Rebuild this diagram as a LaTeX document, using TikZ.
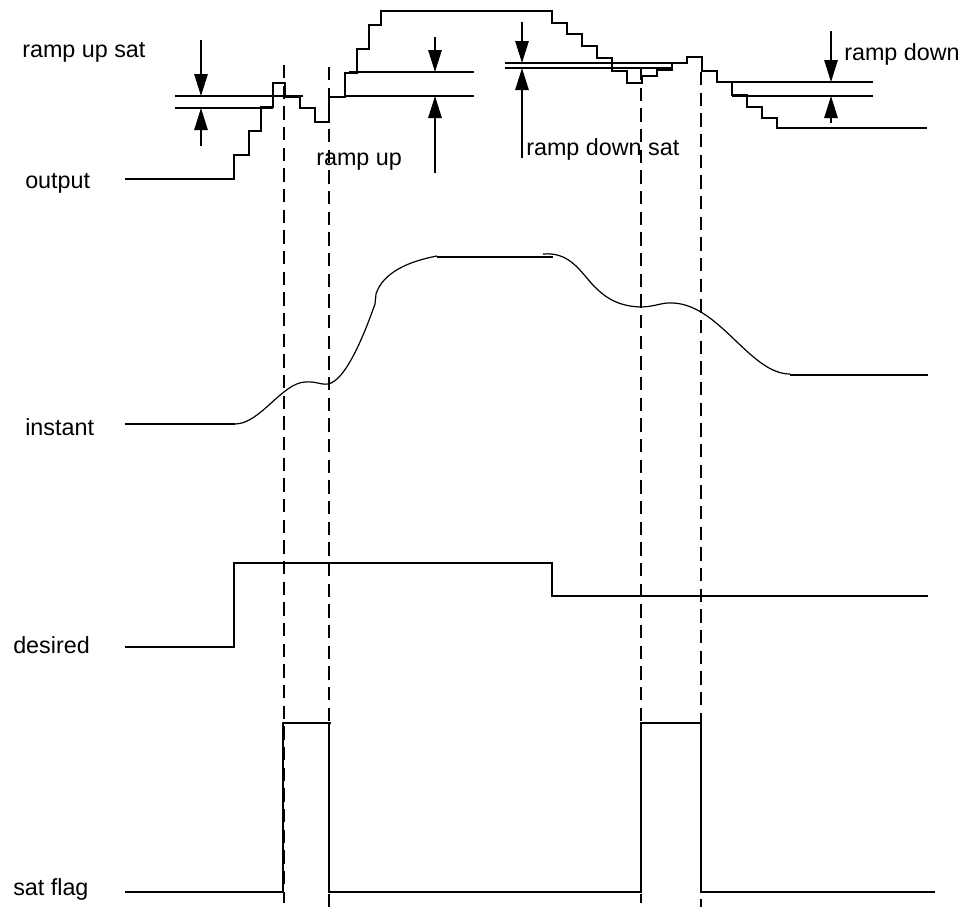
\documentclass[tikz,border=0pt]{standalone}
\usepackage{fontspec}
\setmainfont{Liberation Sans}
\usetikzlibrary{arrows.meta}
\begin{document}
\begin{tikzpicture}[x=0.75pt,y=-0.75pt,
  sig/.style={line width=1.35pt, line join=miter},
  curve/.style={line width=0.9pt},
  guide/.style={line width=1.35pt, dash pattern=on 10pt off 5.5pt},
  dimarrow/.style={line width=1.35pt, -{Triangle[length=16.5pt,width=10pt]}},
  lbl/.style={anchor=base west, inner sep=0pt, font=\fontsize{17.5}{20}\selectfont}]
\useasboundingbox (0,0) rectangle (971,907);

% labels
\node[lbl] (lrupsat) at (22,57) {ramp up sat};
\node[lbl] (lout) at (25,188) {output};
\node[lbl] (lrup) at (316,165) {ramp up};
\node[lbl] (lrdsat) at (526,155) {ramp down sat};
\node[lbl] (lrdown) at (844,60) {ramp down};
\node[lbl] (linst) at (25,435) {instant};
\node[lbl] (ldes) at (13,653) {desired};
\node[lbl] (lsat) at (13,895) {sat flag};

% dashed guides
\draw[guide] (284,65) -- (284,903);
\draw[guide] (329,67) -- (329,907);
\draw[guide] (641,67) -- (641,903);
\draw[guide] (701,72) -- (701,907);

% output staircase
\draw[sig] (125,179) -- (234,179) -- (234,155) -- (249,155) -- (249,131) -- (261,131) -- (261,107)
  -- (273,107) -- (273,83) -- (285,83) -- (285,97) -- (300,97) -- (300,108) -- (315,108) -- (315,122)
  -- (329,122) -- (329,97) -- (345,97) -- (345,73) -- (357,73) -- (357,49) -- (369,49) -- (369,25)
  -- (381,25) -- (381,11) -- (552,11) -- (552,23) -- (567,23) -- (567,34) -- (582,34) -- (582,46)
  -- (597,46) -- (597,58) -- (612,58) -- (612,71) -- (627,71) -- (627,83) -- (642,83) -- (642,76)
  -- (657,76) -- (657,70) -- (672,70) -- (672,63) -- (687,63) -- (687,57) -- (702,57) -- (702,71)
  -- (717,71) -- (717,82) -- (732,82) -- (732,95) -- (747,95) -- (747,107) -- (762,107) -- (762,118)
  -- (777,118) -- (777,128) -- (927,128);

% ramp up sat
\draw[sig] (175,96) -- (303,96);
\draw[sig] (175,108) -- (273,108);
\coordinate (a1t) at (201,40); \coordinate (a1u) at (201,96);
\coordinate (a1b) at (201,146); \coordinate (a1l) at (201,108);
\draw[dimarrow] (a1t) -- (a1u);
\draw[dimarrow] (a1b) -- (a1l);

% ramp up
\draw[sig] (349,72) -- (474,72);
\draw[sig] (345,96) -- (474,96);
\coordinate (a2t) at (435,37); \coordinate (a2u) at (435,72);
\coordinate (a2b) at (435,173); \coordinate (a2l) at (435,96);
\draw[dimarrow] (a2t) -- (a2u);
\draw[dimarrow] (a2b) -- (a2l);

% ramp down sat
\draw[sig] (505,63) -- (684,63);
\draw[sig] (505,68) -- (672,68);
\coordinate (a3t) at (522,22); \coordinate (a3u) at (522,63);
\coordinate (a3b) at (522,158); \coordinate (a3l) at (522,68);
\draw[dimarrow] (a3t) -- (a3u);
\draw[dimarrow] (a3b) -- (a3l);

% ramp down
\draw[sig] (732,82) -- (873,82);
\draw[sig] (732,96) -- (873,96);
\coordinate (a4t) at (831,31); \coordinate (a4u) at (831,82);
\coordinate (a4b) at (831,123); \coordinate (a4l) at (831,96);
\draw[dimarrow] (a4t) -- (a4u);
\draw[dimarrow] (a4b) -- (a4l);

% instant
\draw[sig] (125,424) -- (235,424);
\draw[curve] (235,424) .. controls (260,424) and (282,383) .. (305,382)
  .. controls (316,381) and (320,385) .. (328,384)
  .. controls (345,381) and (363,338) .. (375,304) -- (376,294)
  .. controls (383,272) and (410,261) .. (437,256);
\draw[sig] (437,257) -- (553,257);
\draw[curve] (543,254) .. controls (568,252) and (578,268) .. (592,284)
  .. controls (605,298) and (618,306) .. (640,307)
  .. controls (655,307) and (662,302) .. (673,303)
  .. controls (720,305) and (750,374) .. (790,374);
\draw[sig] (790,375) -- (928,375);

% desired
\draw[sig] (125,647) -- (234,647) -- (234,563) -- (552,563) -- (552,596) -- (928,596);

% sat flag
\draw[sig] (125,892) -- (283,892) -- (283,723) -- (331,723);
\draw[sig] (329,723) -- (329,892) -- (641,892) -- (641,723) -- (702,723);
\draw[sig] (701,723) -- (701,892) -- (935,892);
\end{tikzpicture}
\end{document}
